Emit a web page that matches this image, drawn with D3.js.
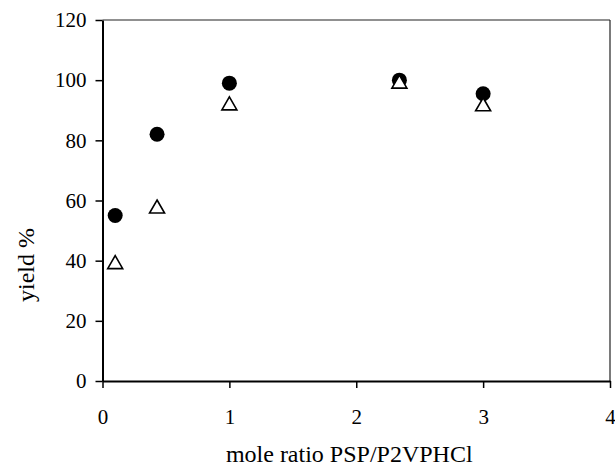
<!DOCTYPE html>
<html>
<head>
<meta charset="utf-8">
<script src="https://cdn.jsdelivr.net/npm/d3@7"></script>
<style>
  body { margin: 0; background: #fff; }
  svg text { font-family: "Liberation Serif", "Times New Roman", serif; fill: #000; }
</style>
</head>
<body>
<div id="chart"></div>
<script>
// mole ratio PSP/P2VPHCl
var ratios = [0.1, 0.43, 1.0, 2.34, 3.0];
// yield %, filled circles
var yieldCircles = [55, 82, 99, 100, 95.5];
// yield %, open triangles
var yieldTriangles = [39.5, 58, 92.3, 99.5, 92];
var xTicks = [0, 1, 2, 3, 4];
var yTicks = [0, 20, 40, 60, 80, 100, 120];

var width = 615, height = 469;
var plotLeft = 102.5, plotRight = 610, plotTop = 20, plotBottom = 381;

var svg = d3.select("#chart").append("svg")
    .attr("width", width)
    .attr("height", height);

var x = d3.scaleLinear().domain([0, 4]).range([plotLeft, plotRight]);
var y = d3.scaleLinear().domain([0, 120]).range([plotBottom, plotTop]);

// frame lines on top and right
svg.append("line")
    .attr("x1", plotLeft).attr("x2", plotRight)
    .attr("y1", plotTop).attr("y2", plotTop)
    .attr("stroke", "#222").attr("stroke-width", 1.2);
svg.append("line")
    .attr("x1", plotRight).attr("x2", plotRight)
    .attr("y1", plotTop).attr("y2", plotBottom)
    .attr("stroke", "#222").attr("stroke-width", 1.2);

// x axis
var xAxis = svg.append("g")
    .attr("transform", "translate(0," + plotBottom + ")")
    .call(d3.axisBottom(x).tickValues(xTicks).tickFormat(d3.format("d")).tickSize(7).tickSizeOuter(0));
xAxis.select(".domain").attr("stroke-width", 2);
xAxis.selectAll(".tick line").attr("stroke-width", 1.5);
xAxis.selectAll(".tick text")
    .attr("y", 28)
    .style("font-size", "21px");

// y axis
var yAxis = svg.append("g")
    .attr("transform", "translate(" + plotLeft + ",0)")
    .call(d3.axisLeft(y).tickValues(yTicks).tickSize(7).tickSizeOuter(0));
yAxis.select(".domain").attr("stroke-width", 2);
yAxis.selectAll(".tick line").attr("stroke-width", 1.5);
yAxis.selectAll(".tick text")
    .attr("x", -16)
    .style("font-size", "21px");

// axis titles
svg.append("text")
    .attr("x", (plotLeft + plotRight) / 2 - 7)
    .attr("y", 462)
    .attr("text-anchor", "middle")
    .style("font-size", "24px")
    .text("mole ratio PSP/P2VPHCl");

svg.append("text")
    .attr("transform", "translate(34," + 265 + ") rotate(-90)")
    .attr("text-anchor", "middle")
    .style("font-size", "24px")
    .text("yield %");

// triangle centred on its bounding box
var boxTriangle = {
    draw: function(context, size) {
        var w = 15, h = 13;
        context.moveTo(0, -h / 2);
        context.lineTo(w / 2, h / 2);
        context.lineTo(-w / 2, h / 2);
        context.closePath();
    }
};

var circlesData = ratios.map(function(r, i) { return { x: r, y: yieldCircles[i] }; });
var trianglesData = ratios.map(function(r, i) { return { x: r, y: yieldTriangles[i] }; });

svg.selectAll("circle.pt")
    .data(circlesData)
    .enter().append("circle")
    .attr("class", "pt")
    .attr("cx", function(d) { return x(d.x); })
    .attr("cy", function(d) { return y(d.y); })
    .attr("r", 7.5)
    .attr("fill", "#000");

svg.selectAll("path.tri")
    .data(trianglesData)
    .enter().append("path")
    .attr("class", "tri")
    .attr("d", d3.symbol().type(boxTriangle))
    .attr("transform", function(d) { return "translate(" + x(d.x) + "," + y(d.y) + ")"; })
    .attr("fill", "#fff")
    .attr("stroke", "#000")
    .attr("stroke-width", 1.6);
</script>
</body>
</html>
